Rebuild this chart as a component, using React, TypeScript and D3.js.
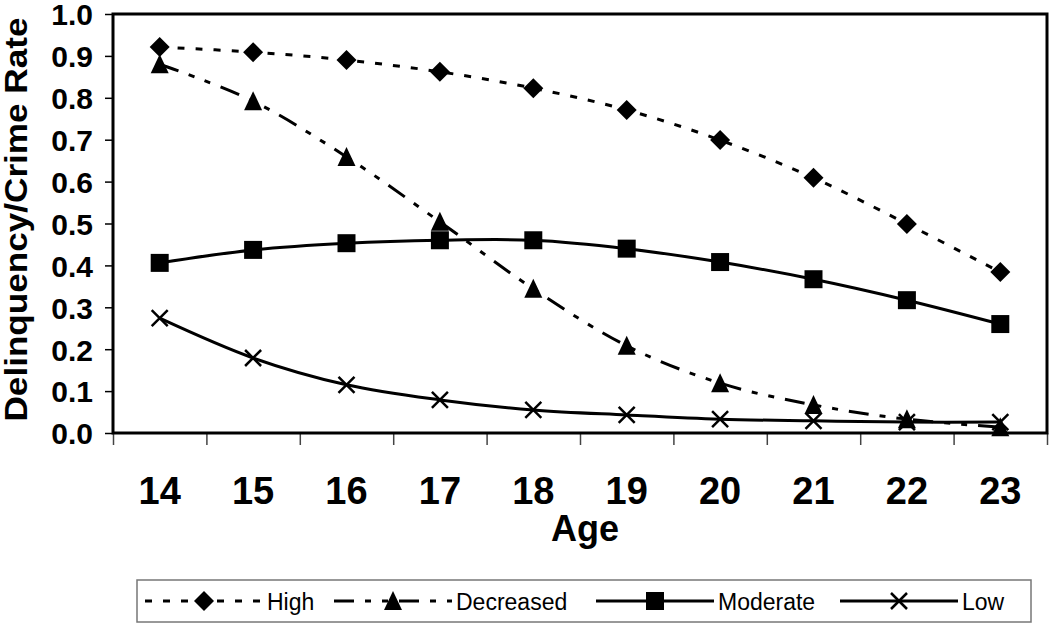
import React, { useEffect, useRef } from 'react';
import * as d3 from 'd3';

const ages = [14, 15, 16, 17, 18, 19, 20, 21, 22, 23];
const highValues = [0.921, 0.909, 0.89, 0.862, 0.823, 0.771, 0.699, 0.609, 0.499, 0.384];
const decreasedValues = [0.88, 0.792, 0.659, 0.504, 0.344, 0.208, 0.119, 0.067, 0.033, 0.014];
const moderateValues = [0.406, 0.437, 0.453, 0.46, 0.46, 0.44, 0.408, 0.367, 0.317, 0.26];
const lowValues = [0.274, 0.179, 0.115, 0.079, 0.055, 0.043, 0.033, 0.029, 0.026, 0.026];
const yTicks = [0, 0.1, 0.2, 0.3, 0.4, 0.5, 0.6, 0.7, 0.8, 0.9, 1.0];

const FONT = '"Liberation Sans", Arial, sans-serif';

const diamond = {
  draw(ctx, size) {
    const r = Math.sqrt(size) / 2;
    ctx.moveTo(0, -r);
    ctx.lineTo(r, 0);
    ctx.lineTo(0, r);
    ctx.lineTo(-r, 0);
    ctx.closePath();
  },
};

const triangle = {
  draw(ctx, size) {
    const r = Math.sqrt(size) / 2;
    ctx.moveTo(0, -r - 1);
    ctx.lineTo(r, r);
    ctx.lineTo(-r, r);
    ctx.closePath();
  },
};

const square = {
  draw(ctx, size) {
    const r = Math.sqrt(size) / 2;
    ctx.rect(-r, -r, 2 * r, 2 * r);
  },
};

const cross = {
  draw(ctx, size) {
    const r = Math.sqrt(size) / 2;
    ctx.moveTo(-r, -r);
    ctx.lineTo(r, r);
    ctx.moveTo(r, -r);
    ctx.lineTo(-r, r);
  },
};

const series = [
  { name: 'High', values: highValues, dash: '7,11', symbol: diamond, size: 400, filled: true },
  { name: 'Decreased', values: decreasedValues, dash: '20,11,6,11,6,11', symbol: triangle, size: 324, filled: true },
  { name: 'Moderate', values: moderateValues, dash: null, symbol: square, size: 324, filled: true },
  { name: 'Low', values: lowValues, dash: null, symbol: cross, size: 256, filled: false },
];

const App = () => {
  const chart = useRef(null);

  useEffect(() => {
    const width = 1050;
    const height = 624;
    const margin = { top: 14, right: 3, bottom: 191, left: 113 };

    const root = d3.select(chart.current);
    root.selectAll('*').remove();

    const svg = root
      .append('svg')
      .attr('width', width)
      .attr('height', height)
      .style('position', 'absolute')
      .style('left', 0)
      .style('top', 0)
      .style('background', '#fff')
      .style('font-family', FONT);

    const xScale = d3
      .scaleLinear()
      .domain([13.5, 23.5])
      .range([margin.left, width - margin.right]);

    const yScale = d3
      .scaleLinear()
      .domain([0, 1])
      .range([height - margin.bottom, margin.top]);

    // y axis
    const yAxis = d3
      .axisLeft(yScale)
      .tickValues(yTicks)
      .tickFormat(d3.format('.1f'))
      .tickSize(8)
      .tickPadding(12);

    const yg = svg
      .append('g')
      .attr('transform', `translate(${margin.left},0)`)
      .call(yAxis);
    yg.select('.domain').remove();
    yg.selectAll('line').attr('stroke', '#000').attr('stroke-width', 1.5);
    yg.selectAll('text')
      .attr('fill', '#000')
      .attr('dy', '0.36em')
      .style('font-size', '30px')
      .style('font-weight', 'bold')
      .style('font-family', FONT);

    // x axis: ticks between categories
    const boundaries = d3.range(13.5, 24, 1);
    const xTickAxis = d3
      .axisBottom(xScale)
      .tickValues(boundaries)
      .tickSize(12)
      .tickFormat(() => '');
    const xg = svg
      .append('g')
      .attr('transform', `translate(0,${yScale(0)})`)
      .call(xTickAxis);
    xg.select('.domain').remove();
    xg.selectAll('line').attr('stroke', '#444').attr('stroke-width', 1.5);

    svg
      .append('g')
      .selectAll('text')
      .data(ages)
      .join('text')
      .attr('x', (d) => xScale(d))
      .attr('y', 504)
      .attr('text-anchor', 'middle')
      .style('font-size', '38px')
      .style('font-weight', 'bold')
      .text((d) => d);

    svg
      .append('text')
      .attr('x', (xScale(13.5) + xScale(23.5)) / 2 + 5)
      .attr('y', 541)
      .attr('text-anchor', 'middle')
      .style('font-size', '36px')
      .style('font-weight', 'bold')
      .text('Age');

    svg
      .append('text')
      .attr('transform', `translate(27,${(yScale(0) + yScale(1)) / 2 - 4}) rotate(-90)`)
      .attr('text-anchor', 'middle')
      .attr('textLength', 404)
      .attr('lengthAdjust', 'spacingAndGlyphs')
      .style('font-size', '31px')
      .style('font-weight', 'bold')
      .text('Delinquency/Crime Rate');

    // plot frame
    svg
      .append('rect')
      .attr('x', margin.left)
      .attr('y', margin.top)
      .attr('width', width - margin.left - margin.right)
      .attr('height', yScale(0) - margin.top)
      .attr('fill', 'none')
      .attr('stroke', '#000')
      .attr('stroke-width', 3);

    const line = d3
      .line()
      .x((d, i) => xScale(ages[i]))
      .y((d) => yScale(d))
      .curve(d3.curveCardinal.tension(0));

    series.forEach((s) => {
      svg
        .append('path')
        .attr('d', line(s.values))
        .attr('fill', 'none')
        .attr('stroke', '#000')
        .attr('stroke-width', 3)
        .attr('stroke-dasharray', s.dash);
    });

    series.forEach((s) => {
      svg
        .append('g')
        .selectAll('path')
        .data(s.values)
        .join('path')
        .attr('transform', (d, i) => `translate(${xScale(ages[i])},${yScale(d)})`)
        .attr('d', d3.symbol(s.symbol, s.size)())
        .attr('fill', s.filled ? '#000' : 'none')
        .attr('stroke', '#000')
        .attr('stroke-width', s.filled ? 0 : 2.5);
    });

    // legend
    const legend = svg.append('g');
    legend
      .append('rect')
      .attr('x', 137)
      .attr('y', 580)
      .attr('width', 894)
      .attr('height', 42)
      .attr('fill', 'none')
      .attr('stroke', '#777')
      .attr('stroke-width', 1.5);

    const legendX = [145, 334, 596, 840];
    series.forEach((s, i) => {
      const x0 = legendX[i];
      const g = legend.append('g').attr('transform', `translate(${x0},601)`);
      g.append('line')
        .attr('x1', 0)
        .attr('x2', 118)
        .attr('stroke', '#000')
        .attr('stroke-width', 3)
        .attr('stroke-dasharray', s.dash);
      g.append('path')
        .attr('transform', 'translate(59,0)')
        .attr('d', d3.symbol(s.symbol, s.size)())
        .attr('fill', s.filled ? '#000' : 'none')
        .attr('stroke', '#000')
        .attr('stroke-width', s.filled ? 0 : 2.5);
      g.append('text')
        .attr('x', 122)
        .attr('y', 9)
        .style('font-size', '23px')
        .text(s.name);
    });
  }, []);

  return <div ref={chart}></div>;
};

export default App;
